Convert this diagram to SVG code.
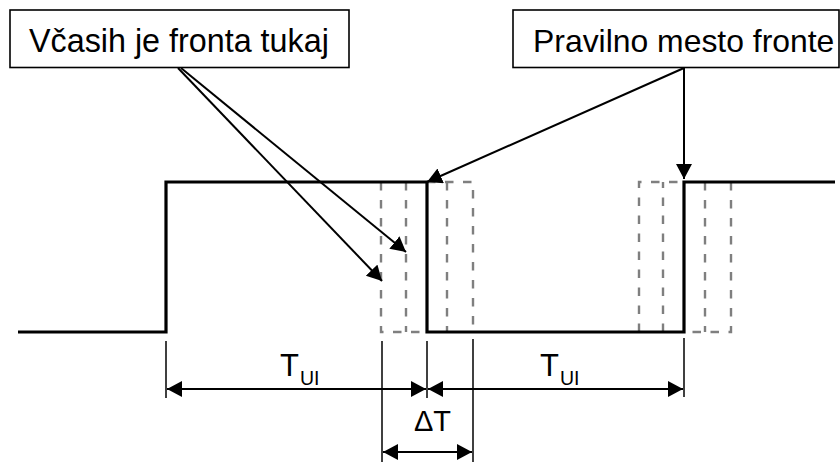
<svg xmlns="http://www.w3.org/2000/svg" width="840" height="462" viewBox="0 0 840 462">
<defs>
<marker id="ah" markerUnits="userSpaceOnUse" markerWidth="18" markerHeight="18" refX="15" refY="8" orient="auto-start-reverse" viewBox="0 0 18 18">
<path d="M0,0 L15,8 L0,16 z" fill="#000"/>
</marker>
</defs>
<style>
.box{fill:#fff;stroke:#000;stroke-width:1.6}
.lbl{font-family:"Liberation Sans",Arial,sans-serif;fill:#000}
.wave{fill:none;stroke:#000;stroke-width:3.2}
.alt{fill:none;stroke:#7f7f7f;stroke-width:2.4;stroke-dasharray:8.5 9.5}
.ptr{fill:none;stroke:#000;stroke-width:2;marker-end:url(#ah)}
.ext{fill:none;stroke:#000;stroke-width:1.5}
.dim{fill:none;stroke:#000;stroke-width:2;marker-start:url(#ah);marker-end:url(#ah)}
</style>
<g id="waveform">
<path class="alt" d="M381,182 V332 H427"/>
<path class="alt" d="M406,182 V332"/>
<path class="alt" d="M427,182 H473 V332"/>
<path class="alt" d="M447,182 V332"/>
<path class="alt" d="M639,332 V182 H684"/>
<path class="alt" d="M663,332 V182"/>
<path class="alt" d="M705,182 V332"/>
<path class="alt" d="M731,182 V332 H684"/>
<path class="wave" d="M18,332 H166 V182 H427 V332 H684 V182 H835"/>
</g>
<g id="label-sometimes">
<rect class="box" x="10" y="10" width="339" height="57.5"/>
<text class="lbl" x="29" y="51.5" font-size="32.3">Včasih je fronta tukaj</text>
</g>
<g id="label-correct">
<rect class="box" x="513" y="10" width="326" height="57.5"/>
<text class="lbl" x="533" y="51.5" font-size="31.9">Pravilno mesto fronte</text>
</g>
<g id="connectors">
<line class="ptr" x1="178" y1="68" x2="382" y2="281"/>
<line class="ptr" x1="181" y1="68" x2="406" y2="252"/>
<line class="ptr" x1="684" y1="68" x2="427" y2="182"/>
<line class="ptr" x1="684" y1="68" x2="684" y2="179"/>
</g>
<g id="dimensions">
<line class="ext" x1="166" y1="341" x2="166" y2="398"/>
<line class="ext" x1="382" y1="341" x2="382" y2="462"/>
<line class="ext" x1="427" y1="341" x2="427" y2="398"/>
<line class="ext" x1="473" y1="339" x2="473" y2="462"/>
<line class="ext" x1="684" y1="338" x2="684" y2="397"/>
<line class="dim" x1="167" y1="389" x2="426" y2="389"/>
<line class="dim" x1="428" y1="389" x2="683" y2="389"/>
<line class="dim" x1="383" y1="452" x2="472" y2="452"/>
</g>
<g id="label-tui-1">
<text class="lbl" x="280" y="376" font-size="31">T</text>
<text class="lbl" x="300" y="385" font-size="19.5">UI</text>
</g>
<g id="label-tui-2">
<text class="lbl" x="540" y="376" font-size="31">T</text>
<text class="lbl" x="560" y="385" font-size="19.5">UI</text>
</g>
<g id="label-dt">
<text class="lbl" x="414" y="431" font-size="29">ΔT</text>
</g>
</svg>
